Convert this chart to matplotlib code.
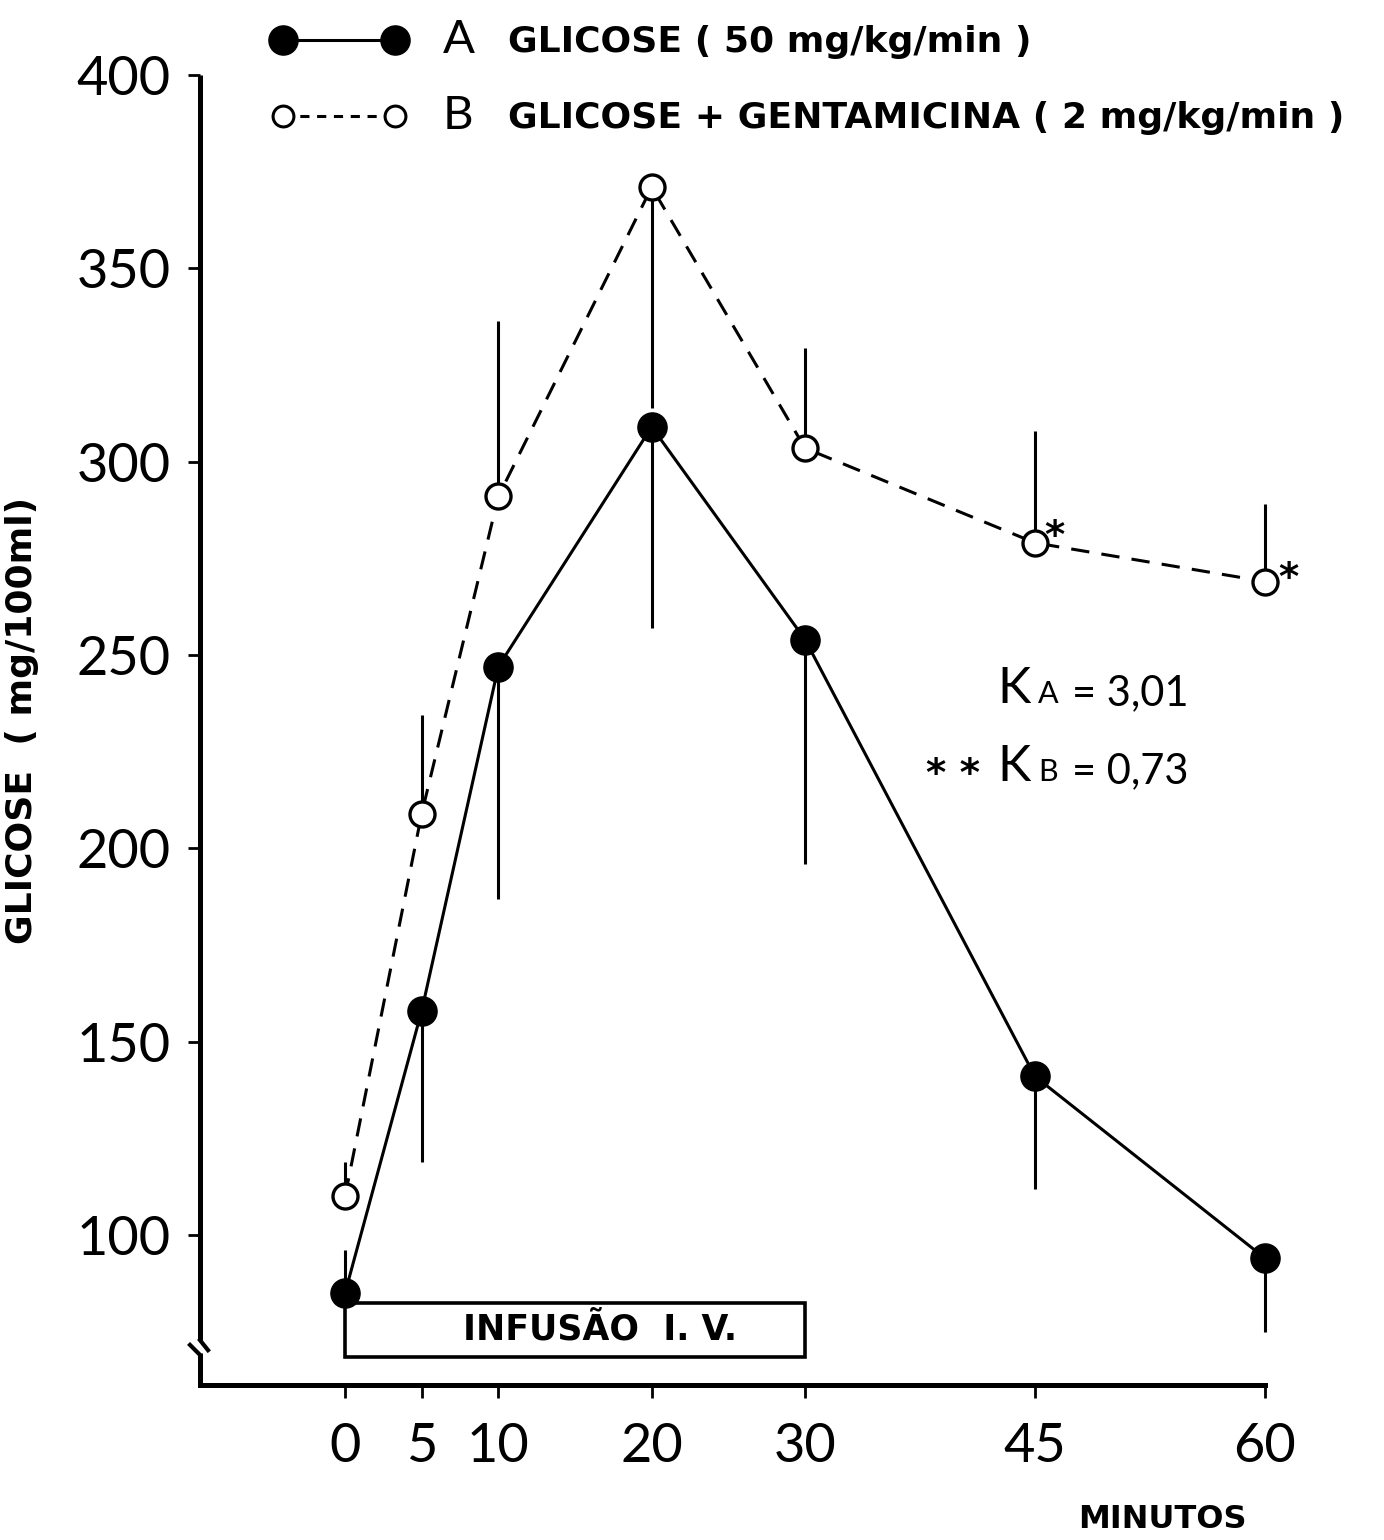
import matplotlib
matplotlib.use("Agg")
import matplotlib.pyplot as plt
from matplotlib.patches import Rectangle
from matplotlib.lines import Line2D

# --- data -------------------------------------------------------------
minutes = [0, 5, 10, 20, 30, 45, 60]
tick_labels = ["0", "5", "10", "20", "30", "45", "60"]
y_ticks = [100, 150, 200, 250, 300, 350, 400]

# A: glicose (50 mg/kg/min)
glic_a = [85, 158, 247, 309, 254, 141, 94]
err_a_low = [0, 39, 60, 52, 58, 29, 19]
err_a_high = [11, 0, 0, 0, 0, 0, 0]

# B: glicose + gentamicina (2 mg/kg/min)
glic_b = [110, 209, 291, 371, 303.5, 279, 269]
err_b_low = [0, 0, 0, 57, 0, 0, 0]
err_b_high = [9, 25.5, 45.5, 0, 26, 29, 20]

infusion_start, infusion_end = 0, 30

W, H = 1384, 1540
fig = plt.figure(figsize=(W / 100, H / 100), dpi=100)
fig.patch.set_facecolor("white")

NUM_FONT = dict(family="Lato", fontweight="normal")
LBL_FONT = dict(family="DejaVu Sans", fontweight="bold")


def fx(px):
    return px / W


def fy(py):
    return 1 - py / H


ax_left, ax_right, ax_top, ax_bottom = 200, 1265, 75, 1385
ax = fig.add_axes([fx(ax_left), fy(ax_bottom),
                   (ax_right - ax_left) / W, (ax_bottom - ax_top) / H])
ax.set_xlim(-9.46, 60)
ax.set_ylim(61.2, 400)

# spines / broken y axis
for s in ("top", "right"):
    ax.spines[s].set_visible(False)
ax.spines["bottom"].set_linewidth(3.6)
ax.spines["left"].set_linewidth(3.6)
ax.spines["left"].set_bounds(72.8, 400)
ax.spines["left"].set_capstyle("butt")
x0 = ax.get_xlim()[0]
px_x = 1 / 15.33   # data units per pixel (x)
px_y = 1 / 3.867   # data units per pixel (y)
ax.plot([x0, x0], [61.2, 69.5], color="k", lw=3.6, clip_on=False,
        solid_capstyle="butt")
ax.plot([x0, x0 + 8 * px_x], [72.8, 72.8 - 10 * px_y], color="k", lw=3,
        clip_on=False)
ax.plot([x0 - 10 * px_x, x0], [69.5 + 8 * px_y, 69.5 - 2 * px_y], color="k",
        lw=3, clip_on=False)

ax.set_xticks(minutes)
ax.set_xticklabels(tick_labels)
ax.set_yticks(y_ticks)
ax.set_yticklabels([str(v) for v in y_ticks])
ax.tick_params(axis="both", direction="out", length=9, width=2, color="k")
ax.tick_params(axis="y", pad=12)
ax.tick_params(axis="x", pad=18)
for lab in ax.get_xticklabels() + ax.get_yticklabels():
    lab.set_fontfamily("Lato")
    lab.set_fontweight("normal")
    lab.set_fontsize(39)

# error bars
ax.errorbar(minutes, glic_a, yerr=[err_a_low, err_a_high], fmt="none",
            ecolor="k", elinewidth=2.2, capsize=0, zorder=2, clip_on=False)
ax.errorbar(minutes, glic_b, yerr=[err_b_low, err_b_high], fmt="none",
            ecolor="k", elinewidth=2.2, capsize=0, zorder=2, clip_on=False)

# series
ax.plot(minutes, glic_a, color="k", lw=2.2, marker="o", ms=21,
        mfc="k", mec="k", zorder=4, clip_on=False)
ax.plot(minutes, glic_b, color="k", lw=2.2, ls=(0, (6, 4)), marker="o",
        ms=18, mfc="white", mec="k", mew=2.4, zorder=5, clip_on=False)

# infusion period box
box_bottom, box_top = 68.45, 82.4
ax.add_patch(Rectangle((infusion_start, box_bottom),
                       infusion_end - infusion_start, box_top - box_bottom,
                       fill=False, ec="k", lw=2.6, zorder=3, clip_on=False))
ax.text((infusion_start + infusion_end) / 2 + 1.6, (box_bottom + box_top) / 2,
        "INFUSÃO  I. V.", ha="center", va="center", fontsize=25, **LBL_FONT)

# significance marks next to B
ax.annotate("*", (45, glic_b[5]), xytext=(14, 4), textcoords="offset points",
            fontsize=28, ha="center", va="center", fontweight="bold")
ax.annotate("*", (60, glic_b[6]), xytext=(17, 2), textcoords="offset points",
            fontsize=28, ha="center", va="center", fontweight="bold")

# --- legend (drawn in figure pixels) ---------------------------------
fig.add_artist(Line2D([fx(283), fx(395)], [fy(40), fy(40)], color="k",
                      lw=2.2, marker="o", ms=21, mfc="k", mec="k"))
fig.add_artist(Line2D([fx(283), fx(395)], [fy(116), fy(116)], color="k",
                      lw=2.2, ls=(0, (3, 2.5)), marker="o", ms=15,
                      mfc="white", mec="k", mew=2.2))
fig.text(fx(443), fy(40), "A", fontsize=34, va="center", ha="left", **NUM_FONT)
fig.text(fx(508), fy(42), "GLICOSE ( 50 mg/kg/min )", fontsize=26,
         va="center", ha="left", **LBL_FONT)
fig.text(fx(443), fy(116), "B", fontsize=34, va="center", ha="left", **NUM_FONT)
fig.text(fx(508), fy(118), "GLICOSE + GENTAMICINA ( 2 mg/kg/min )",
         fontsize=26, va="center", ha="left", **LBL_FONT)

# --- constants of elimination -----------------------------------------
fig.text(fx(997), fy(703), "K", fontsize=36, va="baseline", ha="left", **NUM_FONT)
fig.text(fx(1038), fy(703), "A", fontsize=22, va="baseline", ha="left", **NUM_FONT)
fig.text(fx(1072), fy(705), "= 3,01", fontsize=30, va="baseline", ha="left", **NUM_FONT)
fig.text(fx(926), fy(786), "* *", fontsize=28, va="baseline", ha="left",
         fontweight="bold")
fig.text(fx(997), fy(781), "K", fontsize=36, va="baseline", ha="left", **NUM_FONT)
fig.text(fx(1038), fy(781), "B", fontsize=22, va="baseline", ha="left", **NUM_FONT)
fig.text(fx(1072), fy(783), "= 0,73", fontsize=30, va="baseline", ha="left", **NUM_FONT)

# --- axis titles ------------------------------------------------------
fig.text(fx(1162), fy(1519), "MINUTOS", fontsize=23, ha="center", va="center",
         **LBL_FONT)
fig.text(fx(32), fy(720), "GLICOSE  ( mg/100ml)", fontsize=26, rotation=90,
         rotation_mode="anchor", ha="center", va="baseline", **LBL_FONT)

fig.savefig("out.png", dpi=100, facecolor="white")
